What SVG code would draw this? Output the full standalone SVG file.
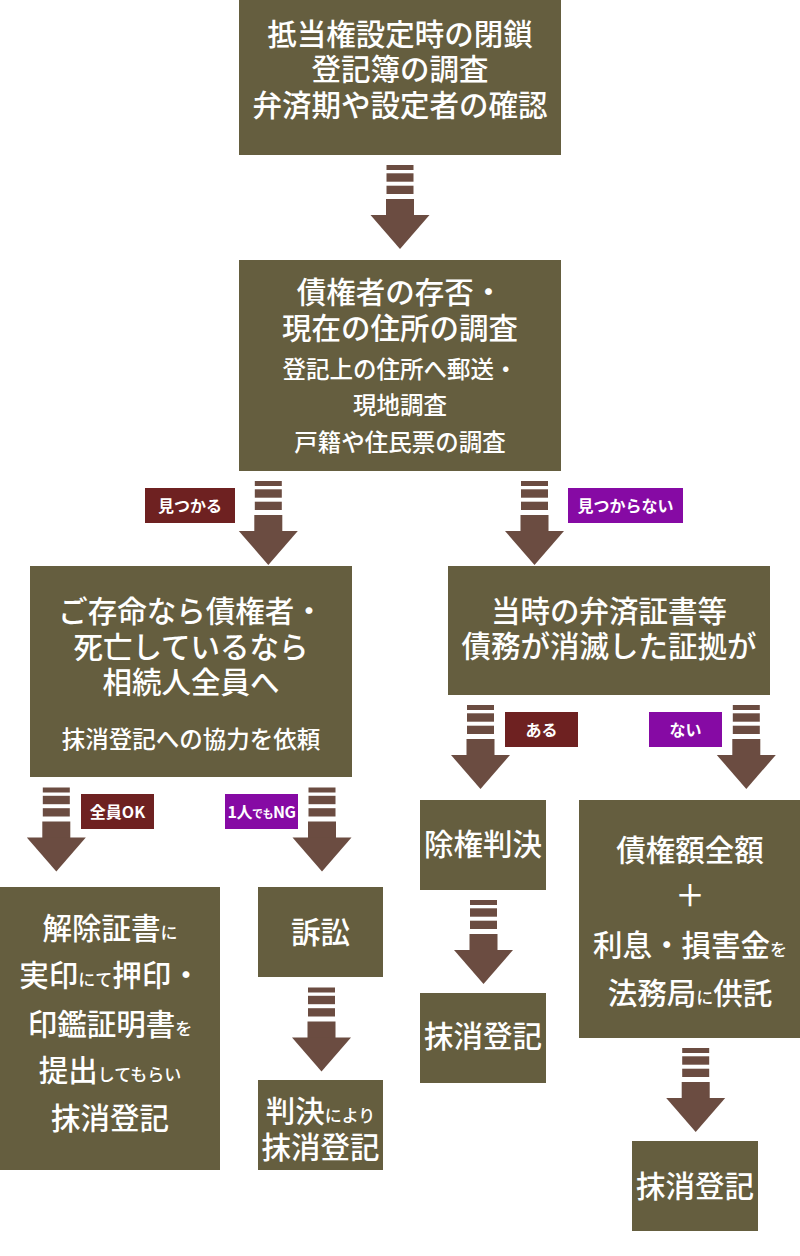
<svg xmlns="http://www.w3.org/2000/svg" xmlns:xlink="http://www.w3.org/1999/xlink" width="800" height="1256" viewBox="0 0 800 1256">
<style>
.box{fill:#655e3f}
.lbl-red{fill:#6e2121}
.lbl-pur{fill:#860aa4}
.t{font-family:"Noto Sans CJK JP","Noto Sans",sans-serif;fill:#ffffff;font-weight:500;text-anchor:middle}
.b{font-size:29.5px}
.m{font-size:23.5px}
.s{font-size:17px}
.l{font-size:16px;font-weight:700}
.arr{fill:#6b4c41}
</style>
<defs>
<g id="arrow" class="arr">
<rect x="-13.5" y="0" width="27" height="5"/>
<rect x="-13.5" y="8.3" width="27" height="8.4"/>
<rect x="-13.5" y="20.7" width="27" height="8.3"/>
<rect x="-14" y="34" width="28" height="17"/>
<polygon points="-29.5,50 29.5,50 0,84"/>
</g>
</defs>
<g id="connectors">
<use xlink:href="#arrow" x="400" y="165"/>
<use xlink:href="#arrow" x="268.3" y="481"/>
<use xlink:href="#arrow" x="534.5" y="481"/>
<use xlink:href="#arrow" x="56.3" y="787.5"/>
<use xlink:href="#arrow" x="322" y="787.5"/>
<use xlink:href="#arrow" x="480.5" y="705"/>
<use xlink:href="#arrow" x="746.3" y="705"/>
<use xlink:href="#arrow" x="321.5" y="987.5"/>
<use xlink:href="#arrow" x="483.5" y="900"/>
<use xlink:href="#arrow" x="695.7" y="1048"/>
<g id="label-found"><rect class="lbl-red" x="145" y="488" width="90" height="35"/><text class="t l" x="190" y="511.5">見つかる</text></g>
<g id="label-notfound"><rect class="lbl-pur" x="568" y="488" width="115" height="35"/><text class="t l" x="625.5" y="511.5">見つからない</text></g>
<g id="label-allok"><rect class="lbl-red" x="81" y="794" width="73" height="35"/><text class="t l" x="117.5" y="817.5">全員OK</text></g>
<g id="label-ng"><rect class="lbl-pur" x="225" y="794" width="73" height="35"/><text class="t l" x="261.5" y="817.5" letter-spacing="-0.5">1人<tspan font-size="11">でも</tspan>NG</text></g>
<g id="label-aru"><rect class="lbl-red" x="505" y="712" width="73" height="35"/><text class="t l" x="541.5" y="735.5">ある</text></g>
<g id="label-nai"><rect class="lbl-pur" x="649" y="712" width="73" height="35"/><text class="t l" x="685.5" y="735.5">ない</text></g>
</g>
<g id="n1"><rect class="box" x="239" y="0" width="322" height="155"/>
<text class="t b"><tspan x="400" y="45">抵当権設定時の閉鎖</tspan><tspan x="400" y="80">登記簿の調査</tspan><tspan x="400" y="116">弁済期や設定者の確認</tspan></text></g>
<g id="n2"><rect class="box" x="239" y="260" width="322" height="211"/>
<text class="t b"><tspan x="400" y="303">債権者の存否・</tspan><tspan x="400" y="339">現在の住所の調査</tspan><tspan class="m" x="400" y="378">登記上の住所へ郵送・</tspan><tspan class="m" x="400" y="414">現地調査</tspan><tspan class="m" x="400" y="450.5">戸籍や住民票の調査</tspan></text></g>
<g id="n3"><rect class="box" x="30" y="566" width="322" height="211"/>
<text class="t b"><tspan x="191" y="622">ご存命なら債権者・</tspan><tspan x="191" y="657.5">死亡しているなら</tspan><tspan x="191" y="693">相続人全員へ</tspan><tspan class="m" x="191" y="748">抹消登記への協力を依頼</tspan></text></g>
<g id="n4"><rect class="box" x="448" y="566" width="322" height="129"/>
<text class="t b"><tspan x="609" y="622">当時の弁済証書等</tspan><tspan x="609" y="657">債務が消滅した証拠が</tspan></text></g>
<g id="n5"><rect class="box" x="0" y="887" width="220" height="283"/>
<text class="t b"><tspan x="110" y="938.5">解除証書<tspan class="s">に</tspan></tspan><tspan x="110" y="986">実印<tspan class="s">にて</tspan>押印・</tspan><tspan x="110" y="1035">印鑑証明書<tspan class="s">を</tspan></tspan><tspan x="110" y="1081">提出<tspan class="s">してもらい</tspan></tspan><tspan x="110" y="1128.5">抹消登記</tspan></text></g>
<g id="n6"><rect class="box" x="258" y="887" width="125" height="90"/>
<text class="t b" x="320.5" y="943">訴訟</text></g>
<g id="n7"><rect class="box" x="258" y="1080" width="125" height="90"/>
<text class="t b"><tspan x="320.5" y="1122">判決<tspan class="s">により</tspan></tspan><tspan x="320.5" y="1157.5">抹消登記</tspan></text></g>
<g id="n8"><rect class="box" x="420" y="800" width="126" height="90"/>
<text class="t b" x="483" y="854.5">除権判決</text></g>
<g id="n9"><rect class="box" x="420" y="993" width="126" height="90"/>
<text class="t b" x="483" y="1047">抹消登記</text></g>
<g id="n10"><rect class="box" x="579" y="800" width="221" height="238"/>
<text class="t b"><tspan x="690" y="861">債権額全額</tspan><tspan x="690" y="906">＋</tspan><tspan x="690" y="956">利息・損害金<tspan class="s">を</tspan></tspan><tspan x="690" y="1003.5">法務局<tspan class="s">に</tspan>供託</tspan></text></g>
<g id="n11"><rect class="box" x="632" y="1141" width="126" height="90"/>
<text class="t b" x="695" y="1197">抹消登記</text></g>
</svg>
